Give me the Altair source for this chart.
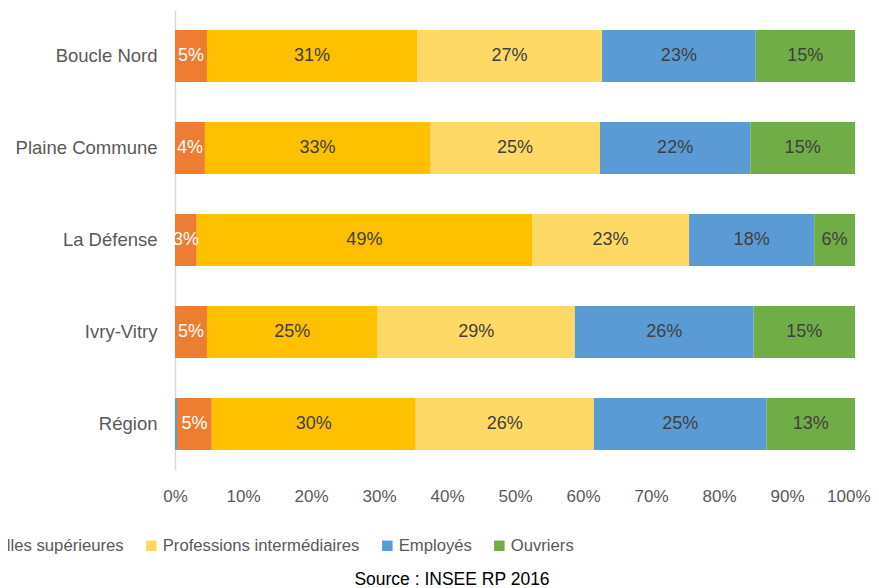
import altair as alt
import pandas as pd

zones = ["Boucle Nord", "Plaine Commune", "La Défense", "Ivry-Vitry", "Région"]
categories = [
    "Agriculteurs exploitants",
    "Artisans, commerçants, chefs d'entreprise",
    "Cadres et professions intellectuelles supérieures",
    "Professions intermédiaires",
    "Employés",
    "Ouvriers",
]
colors = ["#5B9BD5", "#ED7D31", "#FFC000", "#FFD966", "#5B9BD5", "#70AD47"]

agriculteurs = [0.0, 0.0, 0.0, 0.0, 0.3]
artisans = [4.7, 4.4, 3.2, 4.7, 5.1]
cadres = [30.9, 33.1, 49.3, 25.1, 30.0]
prof_inter = [27.2, 25.0, 23.1, 29.0, 26.2]
employes = [22.6, 22.1, 18.4, 26.3, 25.4]
ouvriers = [14.6, 15.4, 6.0, 14.9, 13.0]

series = [agriculteurs, artisans, cadres, prof_inter, employes, ouvriers]
rows = []
for ci, (cat, vals) in enumerate(zip(categories, series)):
    for zi, z in enumerate(zones):
        v = vals[zi]
        rows.append({"zone": z, "cat": cat, "order": ci, "value": v,
                     "label": f"{round(v):d}%"})
df = pd.DataFrame(rows)

FONT = "Liberation Sans"

base = alt.Chart(df).transform_stack(
    stack="value", as_=["start", "end"], groupby=["zone"],
    sort=[alt.SortField("order", order="ascending")]
).transform_calculate(mid="(datum.start + datum.end) / 2")

yenc = alt.Y("zone:N", sort=zones, title=None,
             scale=alt.Scale(paddingInner=0.435, paddingOuter=0.217),
             axis=alt.Axis(ticks=False, domainColor="#D9D9D9", domainWidth=1.5,
                           labelColor="#595959", labelFontSize=18.5, labelFont=FONT,
                           labelPadding=18))

bars = base.mark_bar().encode(
    y=yenc,
    x=alt.X("start:Q", title=None, scale=alt.Scale(domain=[0, 100], nice=False),
            axis=alt.Axis(values=list(range(0, 101, 10)), labelExpr="datum.value + '%'",
                          domain=False, ticks=False, grid=False, labelColor="#595959",
                          labelFontSize=17, labelFont=FONT, labelPadding=18,
                          labelFlush=False,
                          labelAlign={"condition": {"test": "datum.value == 100", "value": "right"},
                                      "value": "center"},
                          labelOffset={"condition": {"test": "datum.value == 100", "value": 15},
                                       "value": 0})),
    x2="end:Q",
    color=alt.Color("cat:N", scale=alt.Scale(domain=categories, range=colors),
                    legend=alt.Legend(title=None, orient="none", direction="horizontal",
                                      columns=6, legendX=-991, legendY=527,
                                      symbolType="square", symbolSize=110,
                                      symbolStrokeWidth=0, labelFontSize=16.7,
                                      labelFont=FONT, labelColor="#595959",
                                      columnPadding=19, labelOffset=3,
                                      labelLimit=600)),
)

texts = base.transform_filter("datum.value >= 1").mark_text(
    fontSize=18, font=FONT, align="center", baseline="middle"
).encode(
    y=alt.Y("zone:N", sort=zones),
    x=alt.X("mid:Q"),
    text="label:N",
    color=alt.condition(alt.datum.order == 1, alt.value("white"), alt.value("#404040")),
)

chart = alt.layer(bars, texts).properties(
    width=680, height=460,
    padding={"left": 167, "top": 2, "right": 16, "bottom": 118},
    autosize=alt.AutoSizeParams(type="none"),
    title=alt.TitleParams("Source : INSEE RP 2016", orient="bottom", anchor="middle",
                          dx=-63, offset=16, fontSize=17.5, font=FONT,
                          fontWeight="normal", color="#000000"),
).configure_view(stroke=None)

chart.save("out.html", embed_options={"renderer": "svg", "actions": False})
